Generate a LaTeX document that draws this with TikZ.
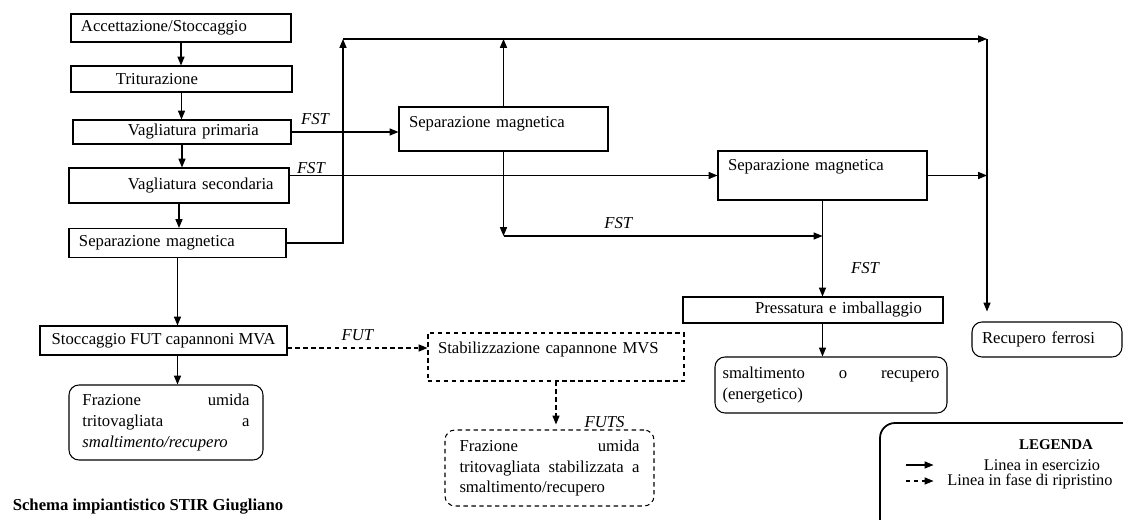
\documentclass[tikz,border=0pt]{standalone}
\usepackage{fontspec}
\setmainfont{Liberation Serif}
\usetikzlibrary{shapes, arrows.meta}
\tikzstyle{boxes} = [rectangle, draw=black, line width=0.6pt, inner xsep=0.2cm, inner ysep=0.08cm, align=left]
\tikzstyle{roundbox} = [boxes, rounded corners=0.2cm]
\tikzstyle{dashbox} = [boxes, dash pattern=on 2.5pt off 2pt]
\tikzstyle{arrow} = [line width=0.6pt, -{Triangle[length=5pt, width=4pt]}]
\tikzstyle{dasharrow} = [arrow, dash pattern=on 2.5pt off 2pt]
\tikzstyle{flow} = [font=\fontsize{9.5}{11.7}\selectfont\itshape, inner sep=1pt]
\tikzstyle{legtext} = [font=\fontsize{9.3}{10}\selectfont, inner sep=0pt]

\begin{document}
\begin{tikzpicture}[font=\fontsize{9.5}{11.7}\selectfont, node distance=1cm]
    \useasboundingbox (-3.62,0.56) rectangle (18.84,-9.84);
    \clip (-3.62,0.56) rectangle (18.84,-9.84);

    \node (acc) [boxes, text width=4.0cm, minimum height=0.56cm] {Accettazione/Stoccaggio};
    \node (trit) [boxes, below of=acc, xshift=0.01cm, yshift=-0.02cm, text width=4.02cm, minimum height=0.52cm] {\hspace*{0.7cm}Triturazione};
    \node (vprim) [boxes, below of=trit, xshift=0.01cm, yshift=-0.06cm, text width=3.96cm, minimum height=0.48cm] {\hspace*{0.9cm}Vagliatura primaria};
    \node (vsec) [boxes, below of=vprim, xshift=-0.06cm, yshift=-0.07cm, text width=4.0cm, minimum height=0.7cm] {\hspace*{0.98cm}Vagliatura secondaria};
    \node (sepm) [boxes, below of=vsec, xshift=-0.03cm, yshift=-0.15cm, text width=3.94cm, minimum height=0.58cm] {Separazione magnetica};
    \node (stocc) [boxes, below of=sepm, xshift=-0.28cm, yshift=-0.95cm, align=center, minimum width=4.94cm, minimum height=0.58cm] {Stoccaggio FUT capannoni MVA};
    \node (fraz1) [roundbox, below of=stocc, xshift=0.05cm, yshift=-0.64cm, inner xsep=0.27cm, text width=3.34cm, minimum height=1.5cm] {Frazione \hfill umida\\ tritovagliata \hfill a\\ \emph{smaltimento/recupero}};
    \node (title) [below of=fraz1, xshift=-0.36cm, yshift=-0.69cm, font=\fontsize{9.5}{11.7}\selectfont\bfseries] {Schema impiantistico STIR Giugliano};

    \node (sm1) [boxes, right of=vprim, xshift=5.43cm, yshift=0.06cm, text width=3.78cm, minimum height=0.88cm, text depth=0.27cm] {Separazione magnetica};
    \node (sm2) [boxes, right of=sm1, xshift=5.38cm, yshift=-0.93cm, text width=3.78cm, minimum height=0.98cm, text depth=0.41cm] {Separazione magnetica};
    \node (press) [boxes, below of=sm2, xshift=-0.19cm, yshift=-1.69cm, text width=4.8cm, minimum height=0.52cm] {\hspace*{1.24cm}Pressatura e imballaggio};
    \node (smalt) [roundbox, below of=press, xshift=0.36cm, yshift=-0.5cm, inner xsep=0.15cm, text width=4.34cm, minimum height=1.12cm] {smaltimento \hfill o \hfill recupero\\ (energetico)};
    \node (ferr) [roundbox, right of=press, xshift=3.68cm, yshift=-0.59cm, text width=2.6cm, minimum height=0.7cm] {Recupero ferrosi};
    \node (stab) [dashbox, right of=stocc, xshift=6.85cm, yshift=-0.33cm, text width=4.72cm, minimum height=0.96cm, text depth=0.39cm] {Stabilizzazione capannone MVS};
    \node (fraz2) [dashbox, rounded corners=0.2cm, below of=stab, xshift=-0.13cm, yshift=-1.22cm, inner xsep=0.29cm, text width=3.6cm, minimum height=1.52cm] {Frazione \hfill umida\\ tritovagliata \hfill stabilizzata \hfill a\\ smaltimento/recupero};

    \coordinate (upL) at (3.24,-0.22);
    \coordinate (upR) at (16.12,-0.22);
    \coordinate (jn) at (6.32,-4.16);

    \draw[arrow] (acc.south) -- (acc.south |- trit.north);
    \draw[arrow] (trit.south) -- (trit.south |- vprim.north);
    \draw[arrow] (vprim.south) -- (vprim.south |- vsec.north);
    \draw[arrow] (vsec.south) -- (vsec.south |- sepm.north);
    \draw[arrow] (sepm.south) -- (sepm.south |- stocc.north);
    \draw[arrow] (sepm.south |- stocc.south) -- (sepm.south |- fraz1.north);
    \draw[arrow] (vprim.east) -- (vprim.east -| sm1.west) node[flow, pos=0.22, above=3pt] {FST};
    \draw[arrow] (vsec.east |- sm2.west) -- (sm2.west) node[flow, pos=0.05, above] {FST};
    \draw[arrow] (sepm.east) -| (upL);
    \draw[arrow] (upL) -- (upR);
    \draw[arrow, shorten >=0.2cm] (upR) -- (upR |- ferr.north);
    \draw[arrow] (sm1.north) -- (sm1.north |- upL);
    \draw[arrow] (sm1.south) -- (sm1.south |- jn);
    \draw[arrow] (sm1.south |- jn) -- (sm2.south |- jn) node[flow, pos=0.36, above=3pt] {FST};
    \draw[arrow] (sm2.east) -- (sm2.east -| upR);
    \draw[arrow] (sm2.south) -- (sm2.south |- press.north) node[flow, pos=0.7, right=15pt] {FST};
    \draw[arrow] (sm2.south |- press.south) -- (sm2.south |- smalt.north);
    \draw[dasharrow] ([yshift=-0.15cm]stocc.east) -- ([yshift=-0.15cm]stocc.east -| stab.west) node[flow, midway, above=3pt] {FUT};
    \draw[dasharrow, shorten >=0.1cm] (stab.south) -- (stab.south |- fraz2.north) node[flow, pos=0.85, right=15pt] {FUTS};

    \draw[line width=1pt, rounded corners=0.3cm] (13.98,-10.5) rectangle (19.5,-7.9);
    \node (legtitle) at (17.5,-8.34) [font=\fontsize{8.5}{10}\selectfont\bfseries] {LEGENDA};
    \coordinate (l1a) at (14.5,-8.74);
    \coordinate (l1b) at (15.05,-8.74);
    \coordinate (l2a) at (14.5,-9.06);
    \coordinate (l2b) at (15.05,-9.06);
    \draw[arrow] (l1a) -- (l1b);
    \draw[dasharrow] (l2a) -- (l2b);
    \node (leg1) [legtext] at (17.22,-8.74) {Linea in esercizio};
    \node (leg2) [legtext, anchor=west] at (15.32,-9.06) {Linea in fase di ripristino};
\end{tikzpicture}
\end{document}
